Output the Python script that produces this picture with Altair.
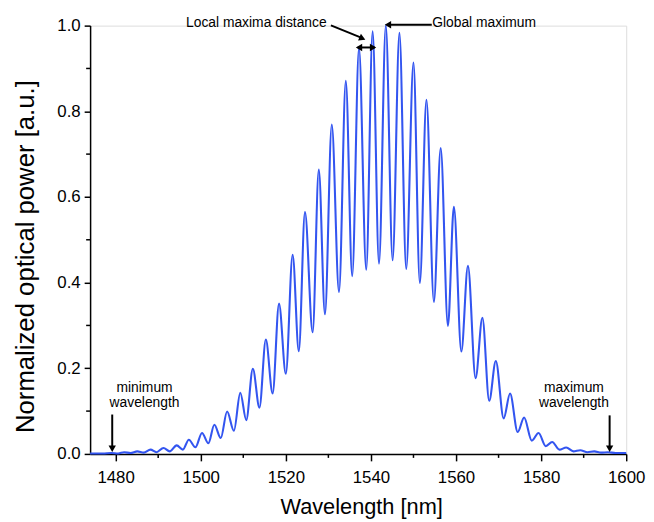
import altair as alt
import pandas as pd

# Spectrum: alternating fringe maxima and minima
wavelength = [1474.0, 1477.0, 1479.0, 1480.6, 1482.0, 1483.5, 1485.1, 1486.6,
              1488.2, 1489.6, 1491.25, 1492.7, 1494.35, 1495.8, 1497.2, 1498.75,
              1500.3, 1501.8, 1503.2, 1504.7, 1506.2, 1507.8, 1509.3, 1510.7,
              1512.25, 1513.8, 1515.3, 1516.9, 1518.4, 1520.0, 1521.6, 1523.05,
              1524.5, 1526.3, 1527.75, 1529.2, 1530.8, 1532.5, 1534.1, 1535.6,
              1537.2, 1538.9, 1540.4, 1541.9, 1543.5, 1545.1, 1546.7, 1548.3,
              1550.0, 1551.5, 1553.05, 1554.8, 1556.4, 1558.1, 1559.5, 1561.25,
              1562.8, 1564.6, 1566.2, 1567.8, 1569.35, 1571.2, 1572.7, 1574.5,
              1576.0, 1577.8, 1579.4, 1581.1, 1582.6, 1584.3, 1585.9, 1587.6,
              1589.2, 1590.9, 1592.5, 1594.1, 1595.7, 1597.5, 1600.0]
power = [0.001, 0.001, 0.002, 0.001, 0.004, 0.002, 0.006, 0.003,
         0.010, 0.004, 0.014, 0.006, 0.020, 0.010, 0.033, 0.0155,
         0.049, 0.025, 0.068, 0.037, 0.099, 0.054, 0.143, 0.079,
         0.199, 0.108, 0.267, 0.141, 0.351, 0.187, 0.465, 0.240,
         0.565, 0.284, 0.664, 0.326, 0.769, 0.378, 0.871, 0.415,
         0.948, 0.430, 0.987, 0.444, 1.000, 0.452, 0.983, 0.432,
         0.914, 0.399, 0.827, 0.355, 0.714, 0.299, 0.577, 0.239,
         0.439, 0.177, 0.318, 0.124, 0.217, 0.083, 0.141, 0.051,
         0.085, 0.031, 0.049, 0.018, 0.028, 0.010, 0.015, 0.006,
         0.0085, 0.004, 0.006, 0.003, 0.004, 0.002, 0.002]

major_x = [1480, 1500, 1520, 1540, 1560, 1580, 1600]
minor_x = [1490, 1510, 1530, 1550, 1570, 1590]
major_y = [0.0, 0.2, 0.4, 0.6, 0.8, 1.0]
minor_y = [0.1, 0.3, 0.5, 0.7, 0.9]

# Annotation texts (data coordinates)
text_right = ["Local maxima distance"]
text_right_wl = [1529.6]
text_right_p = [1.006]
text_left = ["Global maximum"]
text_left_wl = [1554.4]
text_left_p = [1.006]
text_center = ["minimum", "wavelength", "maximum", "wavelength"]
text_center_wl = [1486.8, 1486.8, 1587.7, 1587.7]
text_center_p = [0.154, 0.119, 0.154, 0.119]

# Arrow shafts
arrow_wl = [1530.6, 1536.9, 1554.3, 1479.2, 1596.1]
arrow_wl2 = [1537.7, 1540.9, 1544.4, 1479.2, 1596.1]
arrow_p = [1.0005, 0.949, 1.002, 0.092, 0.090]
arrow_p2 = [0.972, 0.949, 1.002, 0.016, 0.016]

# Arrow heads
head_wl = [1538.0, 1537.2, 1540.5, 1544.0, 1479.2, 1596.1]
head_p = [0.970, 0.949, 0.949, 1.002, 0.012, 0.012]
head_shape = ["triangle-right", "triangle-left", "triangle-right",
              "triangle-left", "triangle-down", "triangle-down"]
head_angle = [23, 0, 0, 0, 0, 0]

W, H = 542, 433
FONT = "Liberation Sans, Arial, Helvetica, sans-serif"
BLUE = "#3355f0"

xscale = alt.Scale(domain=[1474, 1600], nice=False, zero=False)
yscale = alt.Scale(domain=[0, 1], nice=False, zero=False)

x_axis = alt.Axis(values=major_x, format="d", title="Wavelength [nm]",
                  tickSize=7, tickWidth=1.5, tickColor="black",
                  domainColor="black", domainWidth=1.5, grid=False,
                  labelFontSize=17, labelFont=FONT, labelColor="black",
                  labelBaseline="middle", labelPadding=17, labelFlush=False,
                  titleFontSize=22, titleFont=FONT, titleFontWeight="normal",
                  titleColor="black", titleX=274, titleY=53,
                  titleBaseline="middle")
y_axis = alt.Axis(values=major_y, format=".1f",
                  title="Normalized optical power [a.u.]",
                  tickSize=6, tickWidth=1.5, tickColor="black",
                  domainColor="black", domainWidth=1.5, grid=False,
                  labelFontSize=17, labelFont=FONT, labelColor="black",
                  labelPadding=4, labelFlush=False,
                  titleFontSize=26, titleFont=FONT, titleFontWeight="normal",
                  titleColor="black", titleX=-65, titleY=233,
                  titleBaseline="middle", titleAngle=-90)

X = alt.X("wl:Q", scale=xscale, axis=x_axis)
Y = alt.Y("p:Q", scale=yscale, axis=y_axis)

spec_df = pd.DataFrame({"wl": wavelength, "p": power})
line = alt.Chart(spec_df).mark_line(
    color=BLUE, strokeWidth=2.1, interpolate="monotone"
).encode(x=X, y=Y)

minx = alt.Chart(pd.DataFrame({"wl": minor_x})).mark_rule(
    color="black", strokeWidth=1.5
).encode(x=X, y=alt.value(H), y2=alt.value(H + 4))

miny = alt.Chart(pd.DataFrame({"p": minor_y})).mark_rule(
    color="black", strokeWidth=1.5
).encode(y=Y, x=alt.value(0), x2=alt.value(-4))

tr = alt.Chart(pd.DataFrame({"wl": text_right_wl, "p": text_right_p,
                             "t": text_right})).mark_text(
    align="right", baseline="middle", font=FONT, fontSize=14, color="black"
).encode(x=X, y=Y, text="t:N")

tl = alt.Chart(pd.DataFrame({"wl": text_left_wl, "p": text_left_p,
                             "t": text_left})).mark_text(
    align="left", baseline="middle", font=FONT, fontSize=14, color="black"
).encode(x=X, y=Y, text="t:N")

tc = alt.Chart(pd.DataFrame({"wl": text_center_wl, "p": text_center_p,
                             "t": text_center})).mark_text(
    align="center", baseline="middle", font=FONT, fontSize=14, color="black"
).encode(x=X, y=Y, text="t:N")

arrows = alt.Chart(pd.DataFrame({"wl": arrow_wl, "wl2": arrow_wl2,
                                 "p": arrow_p, "p2": arrow_p2})).mark_rule(
    color="black", strokeWidth=2
).encode(x=X, x2="wl2:Q", y=Y, y2="p2:Q")

heads = alt.Chart(pd.DataFrame({"wl": head_wl, "p": head_p,
                                "s": head_shape, "a": head_angle})).mark_point(
    filled=True, color="black", opacity=1, size=55
).encode(x=X, y=Y, shape=alt.Shape("s:N", scale=None),
         angle=alt.Angle("a:Q", scale=None))

chart = alt.layer(line, minx, miny, arrows, heads, tr, tl, tc).properties(
    width=W, height=H,
    autosize=alt.AutoSizeParams(type="none"),
    padding={"left": 83, "top": 15, "right": 20, "bottom": 66},
).configure_view(stroke=None).configure(background="white")

chart.save("out.html", embed_options={"renderer": "svg", "actions": False})
